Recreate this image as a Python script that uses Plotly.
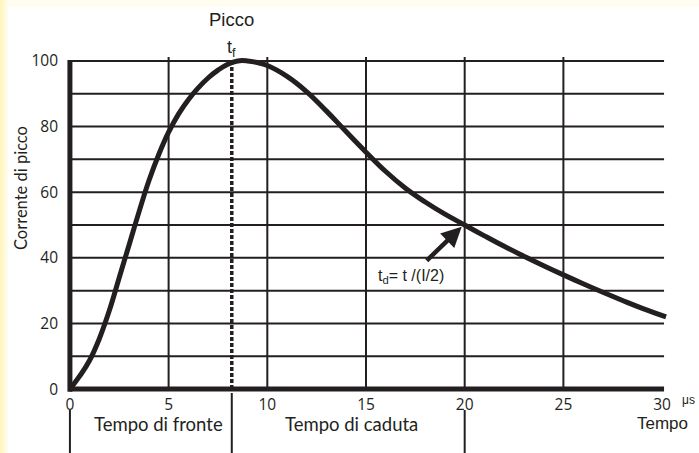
import plotly.graph_objects as go

# ---- data ----
curve_x = [0, 0.5, 1, 1.5, 2, 2.5, 3, 3.5, 4, 4.5, 5, 5.5, 6, 6.5, 7, 7.5, 8, 8.5, 9, 9.5, 10,
           11, 12, 13, 14, 15, 16, 17, 18, 19, 20, 21, 22, 23, 24, 25, 26, 27, 28, 29, 30.2]
curve_y = [0, 4, 8.8, 15.5, 24, 34, 44, 54, 63.5, 71.5, 78.3, 83.8, 88.2, 91.8, 94.8, 97.2, 99, 100, 100, 99.5, 98.6,
           95.3, 90.6, 84.7, 78.4, 72.2, 66.3, 61.2, 57, 53.3, 50, 46.7, 43.5, 40.5, 37.6, 34.8, 32.1, 29.5, 27, 24.6, 22]
x_ticks = [0, 5, 10, 15, 20, 25, 30]
y_ticks = [0, 20, 40, 60, 80, 100]
h_grid = [10, 20, 30, 40, 50, 60, 70, 80, 90, 100]
v_grid = [5, 10, 15, 20, 25]
x_end = 30.1
peak_t = 8.2
half_t = 20.0
arrow_tail = (18.0, 38.7)
arrow_head = (19.85, 49.5)
label_td = (17.3, 34.4)
phase_labels = ["Tempo di fronte", "Tempo di caduta"]
phase_centers = [4.5, 14.25]
phase_dividers = [0, peak_t, half_t]

INK = "#231f20"
W, H = 699, 453
ML, MR, MT, MB = 64, 31, 56, 59
PW, PH = W - ML - MR, H - MT - MB

def py2paper(py):
    return (H - MB - py) / PH

def px2paper(px):
    return (px - ML) / PW

calibri_like = "Lato, 'Open Sans', sans-serif"
tick_font = "'Open Sans', Lato, sans-serif"
arial_like = "'Liberation Sans', Arial, sans-serif"

fig = go.Figure()

shapes = []
# page background: pale yellow edges
shapes.append(dict(type="rect", xref="paper", yref="paper", x0=px2paper(0), x1=px2paper(W), y0=py2paper(H), y1=py2paper(0),
                   fillcolor="#fffdf0", line_width=0, layer="below"))
for i, col in enumerate(["#fff6c2", "#fff8cf", "#fffadc", "#fffce8"]):
    shapes.append(dict(type="rect", xref="paper", yref="paper", x0=px2paper(2 * i), x1=px2paper(2 * i + 2),
                       y0=py2paper(H), y1=py2paper(0), fillcolor=col, line_width=0, layer="below"))
shapes.append(dict(type="rect", xref="paper", yref="paper", x0=px2paper(8), x1=px2paper(W), y0=py2paper(H), y1=py2paper(7),
                   fillcolor="white", line_width=0, layer="below"))

# grid
for yv in h_grid:
    shapes.append(dict(type="line", xref="x", yref="y", x0=0, x1=x_end, y0=yv, y1=yv, line=dict(color=INK, width=2)))
for xv in v_grid:
    shapes.append(dict(type="line", xref="x", yref="y", x0=xv, x1=xv, y0=0, y1=101.2, line=dict(color=INK, width=2)))
# peak dashed line
shapes.append(dict(type="line", xref="x", yref="y", x0=peak_t, x1=peak_t, y0=0, y1=100, line=dict(color=INK, width=3.5, dash="4px,2px")))
# axes
shapes.append(dict(type="line", xref="x", yref="y", x0=0, x1=0, y0=-0.8, y1=100.3, line=dict(color=INK, width=5)))
shapes.append(dict(type="line", xref="x", yref="y", x0=0, x1=x_end, y0=0, y1=0, line=dict(color=INK, width=5)))
# phase dividers below axis
for xv, top in zip(phase_dividers, [410, 393, 410]):
    shapes.append(dict(type="line", xref="x", yref="paper", x0=xv, x1=xv, y0=py2paper(H), y1=py2paper(top),
                       line=dict(color=INK, width=2)))

fig.add_trace(go.Scatter(x=curve_x, y=curve_y, mode="lines", line=dict(color=INK, width=5, shape="spline", smoothing=1.2),
                         hoverinfo="skip", showlegend=False, cliponaxis=False))

C = dict(xanchor="center", yanchor="middle")
ann = []
ann.append(dict(x=arrow_head[0], y=arrow_head[1], ax=arrow_tail[0], ay=arrow_tail[1], xref="x", yref="y", axref="x", ayref="y",
                showarrow=True, arrowhead=2, arrowsize=0.9, arrowwidth=4.5, arrowcolor=INK, text="", standoff=0))
ann.append(dict(x=label_td[0], y=label_td[1], xref="x", yref="y", showarrow=False,
                text="t<sub>d</sub>= t /(I/2)", font=dict(family=arial_like, size=16, color=INK), **C))
ann.append(dict(x=peak_t, y=py2paper(20), xref="x", yref="paper", showarrow=False, text="Picco",
                font=dict(family=arial_like, size=18.5, color=INK), **C))
ann.append(dict(x=peak_t, y=py2paper(48), xref="x", yref="paper", showarrow=False, text="t<sub>f</sub>",
                font=dict(family=arial_like, size=18, color=INK), **C))
for t, c in zip(phase_labels, phase_centers):
    ann.append(dict(x=c, y=py2paper(423.5), xref="x", yref="paper", showarrow=False, text=t,
                    font=dict(family=calibri_like, size=18.5, color=INK), **C))
ann.append(dict(x=x_ticks[-1], y=py2paper(423.5), xref="x", yref="paper", showarrow=False, text="Tempo",
                font=dict(family=arial_like, size=17, color=INK), **C))
ann.append(dict(x=x_ticks[-1], xshift=26, y=py2paper(400), xref="x", yref="paper", showarrow=False, text="μs",
                font=dict(family=arial_like, size=12, color=INK), **C))
ann.append(dict(x=px2paper(21), y=py2paper(188), xref="paper", yref="paper", showarrow=False, text="Corrente di picco",
                textangle=-90, font=dict(family=calibri_like, size=16.5, color=INK), **C))

fig.update_layout(
    width=W, height=H, margin=dict(l=ML, r=MR, t=MT, b=MB, pad=0),
    paper_bgcolor="white", plot_bgcolor="rgba(0,0,0,0)",
    shapes=shapes, annotations=ann, showlegend=False,
    xaxis=dict(range=[-0.3, 30.3], tickvals=x_ticks, ticktext=[str(v) for v in x_ticks], showgrid=False, zeroline=False,
               showline=False, ticks="", ticklabelstandoff=-1, tickfont=dict(family=tick_font, size=15.5, color=INK),
               automargin=False, fixedrange=True),
    yaxis=dict(range=[-1.5, 101.5], tickvals=y_ticks, ticktext=[str(v) for v in y_ticks], showgrid=False, zeroline=False,
               showline=False, ticks="", ticklabelstandoff=5, tickfont=dict(family=tick_font, size=15.5, color=INK),
               automargin=False, fixedrange=True),
)

fig.write_html("out.html", config={"displayModeBar": False},
               post_script="document.body.style.margin='0px';document.body.style.overflow='hidden';")
